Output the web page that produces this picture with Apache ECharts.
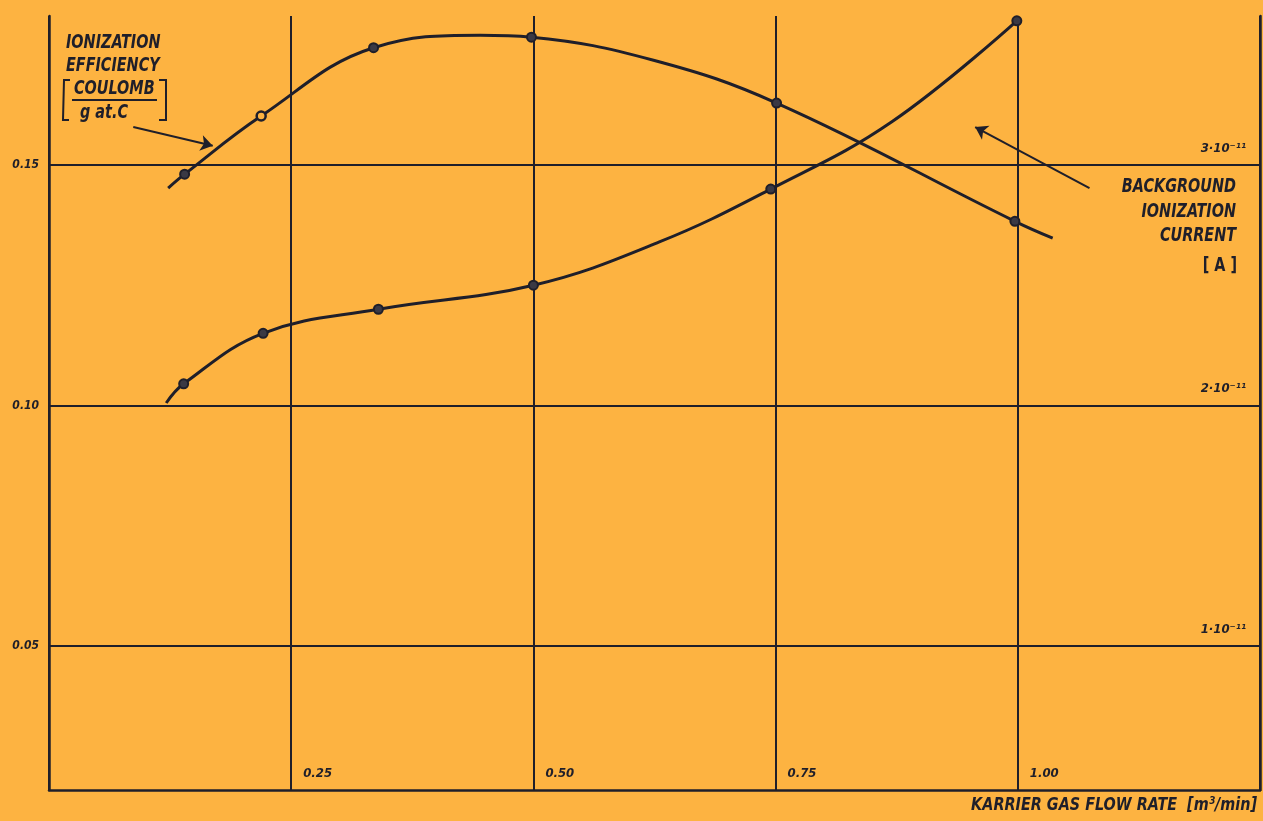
<!DOCTYPE html>
<html>
<head>
<meta charset="utf-8">
<script src="https://cdn.jsdelivr.net/npm/echarts@6/dist/echarts.min.js"></script>
<style>
  html, body { margin: 0; padding: 0; background: #fdb341; }
  #chart { width: 1263px; height: 821px; }
</style>
</head>
<body>
<div id="chart"></div>
<script>
// ionization efficiency (left axis, coulomb / g at. C) - measured points
const effFlow = [0.140, 0.219, 0.335, 0.498, 0.751, 0.997]
const effValue = [0.1481, 0.1602, 0.1744, 0.1766, 0.1629, 0.1383]
const effOpen = [false, true, false, false, false, false]
// points (no marker)
const effTrace = [[0.123, 0.1452], [0.445, 0.1770], [0.624, 0.1718], [1.036, 0.1348]]

// background ionization current (right axis, in 1e-11 A) - measured points
const curFlow = [0.139, 0.221, 0.340, 0.500, 0.745, 0.999]
const curValue = [2.09, 2.30, 2.40, 2.50, 2.90, 3.60]
const curTrace = [[0.121, 2.01], [0.630, 2.68], [0.870, 3.18]]

const gridValues = [0.05, 0.10, 0.15]

const ink = '#1f1f2a'
const paper = '#fdb341'
const font = '"DejaVu Sans Condensed", "DejaVu Sans", sans-serif'

function markerData (flow, value, open) {
  return flow.map((x, i) => ({
    value: [x, value[i]],
    symbol: 'circle',
    symbolSize: 9,
    itemStyle: open && open[i]
      ? { color: paper, borderColor: ink, borderWidth: 2.5 }
      : { color: '#3a3944', borderColor: ink, borderWidth: 2 }
  }))
}

function curveData (flow, value, open, trace) {
  return markerData(flow, value, open)
    .concat(trace.map(p => ({ value: p, symbol: 'none' })))
    .sort((a, b) => a.value[0] - b.value[0])
}

function label (text, x, y, align, fontStyle) {
  return {
    type: 'text',
    x: x,
    y: y,
    scaleY: 1.25,
    style: {
      text: text,
      font: (fontStyle || 'italic bold') + ' 16px ' + font,
      fill: ink,
      verticalAlign: 'top',
      align: align || 'left'
    }
  }
}

const chart = echarts.init(document.getElementById('chart'))
const option = {
  backgroundColor: paper,
  animation: false,
  grid: { left: 49, right: 2, top: 16, bottom: 31 },
  xAxis: {
    type: 'value',
    min: 0,
    max: 1.25,
    interval: 0.25,
    axisLine: { show: true, lineStyle: { color: ink, width: 2.5 } },
    axisTick: { show: false },
    splitLine: { show: true, lineStyle: { color: ink, width: 2 } },
    axisLabel: {
      inside: true,
      align: 'left',
      margin: 10,
      padding: [0, 0, 0, 12],
      color: ink,
      fontFamily: font,
      fontStyle: 'italic',
      fontWeight: 'bold',
      fontSize: 13,
      formatter: v => (v > 0 && v < 1.2) ? v.toFixed(2) : ''
    }
  },
  yAxis: [
    {
      type: 'value',
      min: 0.02,
      max: 0.181,
      interval: 0.01,
      axisLine: { show: true, lineStyle: { color: ink, width: 2.5 } },
      axisTick: { show: false },
      splitLine: { show: false },
      axisLabel: {
        margin: 10,
        color: ink,
        fontFamily: font,
        fontStyle: 'italic',
        fontWeight: 'bold',
        fontSize: 12,
        padding: [5, 0, 0, 0],
        formatter: v => Math.round(v * 100) % 5 === 0 ? v.toFixed(2) : ''
      }
    },
    {
      type: 'value',
      position: 'right',
      min: 0.4,
      max: 3.62,
      interval: 0.2,
      axisLine: { show: true, lineStyle: { color: ink, width: 2.5 } },
      axisTick: { show: false },
      splitLine: { show: false },
      axisLabel: {
        inside: true,
        margin: 14,
        verticalAlign: 'bottom',
        padding: [0, 0, 10, 0],
        color: ink,
        fontFamily: font,
        fontStyle: 'italic',
        fontWeight: 'bold',
        fontSize: 13,
        formatter: v => Math.abs(v - Math.round(v)) < 1e-6 ? Math.round(v) + '·10⁻¹¹' : ''
      }
    }
  ],
  graphic: [
    label('IONIZATION', 66, 33),
    label('EFFICIENCY', 66, 56),
    label('COULOMB', 74, 79),
    label('g at.C', 80, 103),
    { type: 'line', shape: { x1: 72, y1: 100, x2: 157, y2: 100 }, style: { stroke: ink, lineWidth: 2 } },
    { type: 'polyline', shape: { points: [[70, 80], [64, 80], [63, 120], [69, 120]] }, style: { stroke: ink, lineWidth: 2, fill: null } },
    { type: 'polyline', shape: { points: [[159, 80], [166, 80], [166, 120], [159, 120]] }, style: { stroke: ink, lineWidth: 2, fill: null } },
    label('BACKGROUND', 1236, 177, 'right'),
    label('IONIZATION', 1236, 202, 'right'),
    label('CURRENT', 1236, 226, 'right'),
    label('[ A ]', 1237, 256, 'right', 'bold'),
    Object.assign(label('KARRIER GAS FLOW RATE  [m³/min]', 1257, 796, 'right'), { scaleY: 1.15 })
  ],
  series: [
    {
      name: 'Ionization efficiency',
      type: 'line',
      smooth: 0.4,
      yAxisIndex: 0,
      lineStyle: { color: ink, width: 3 },
      data: curveData(effFlow, effValue, effOpen, effTrace),
      z: 5,
      markLine: {
        silent: true,
        symbol: ['none', 'none'],
        label: { show: false },
        lineStyle: { color: ink, width: 2, type: 'solid' },
        data: gridValues.map(v => ({ yAxis: v }))
          .concat([
            [{ coord: [0.087, 0.1579], symbol: 'none' }, { coord: [0.169, 0.1540], symbol: 'arrow', symbolSize: 12 }],
            [{ coord: [1.074, 0.1452], symbol: 'none' }, { coord: [0.956, 0.1579], symbol: 'arrow', symbolSize: 12 }]
          ])
      }
    },
    {
      name: 'Background ionization current',
      type: 'line',
      smooth: 0.4,
      yAxisIndex: 1,
      lineStyle: { color: ink, width: 3 },
      data: curveData(curFlow, curValue, null, curTrace),
      z: 5
    }
  ]
}
chart.setOption(option)
</script>
</body>
</html>
